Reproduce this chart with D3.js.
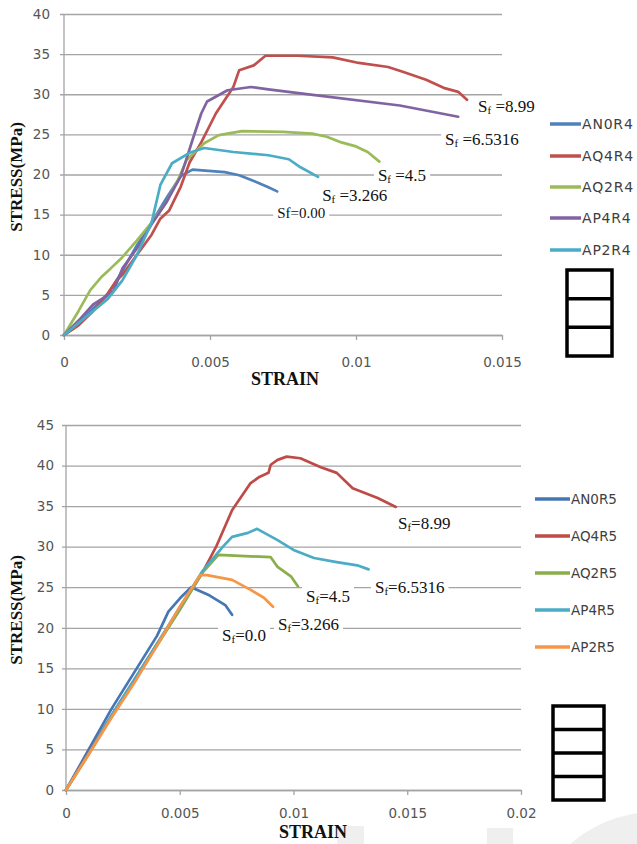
<!DOCTYPE html>
<html><head><meta charset="utf-8">
<script src="https://cdn.jsdelivr.net/npm/d3@7"></script>
<style>
html,body{margin:0;padding:0;background:#fff;}
svg{display:block;}
</style></head>
<body>
<svg id="c" width="637" height="844"></svg>
<script>
// ---------- DATA ----------
const seriesNamesR4 = ["AN0R4","AQ4R4","AQ2R4","AP4R4","AP2R4"];
const AN0R4 = [[0,0],[0.0005,1.5],[0.001,3.3],[0.0015,5],[0.002,8],[0.0025,11.2],[0.003,14],[0.0035,17],[0.004,19.8],[0.0044,20.6],[0.0055,20.3],[0.006,19.9],[0.0065,19.2],[0.007,18.4],[0.0073,17.9]];
const AQ4R4 = [[0,0],[0.0005,1.2],[0.001,3],[0.0015,5.2],[0.0018,6.8],[0.002,7.5],[0.0025,10],[0.003,12.5],[0.0033,14.5],[0.0036,15.5],[0.004,18.5],[0.0043,21.5],[0.0047,24],[0.0052,27.6],[0.0058,30.9],[0.006,33],[0.0065,33.6],[0.0069,34.8],[0.008,34.8],[0.0092,34.6],[0.0101,33.9],[0.0111,33.4],[0.0116,32.8],[0.0124,31.8],[0.013,30.8],[0.0135,30.3],[0.0138,29.3]];
const AQ2R4 = [[0,0],[0.0005,3],[0.0009,5.6],[0.0013,7.3],[0.0016,8.3],[0.002,9.7],[0.0025,11.8],[0.003,14],[0.0035,16.5],[0.0039,19.3],[0.0042,21.8],[0.0048,23.9],[0.0053,24.9],[0.0061,25.4],[0.0075,25.3],[0.0085,25.1],[0.009,24.7],[0.0095,24],[0.01,23.5],[0.0104,22.8],[0.0108,21.6]];
const AP4R4 = [[0,0],[0.0005,1.8],[0.001,3.8],[0.0013,4.5],[0.0017,5.5],[0.002,8.3],[0.0025,10.8],[0.003,13.8],[0.0035,16.5],[0.004,19.8],[0.0042,22],[0.0044,24.3],[0.0047,27.6],[0.0049,29.1],[0.0056,30.5],[0.0064,30.9],[0.007,30.6],[0.0081,30.1],[0.0115,28.6],[0.0135,27.2]];
const AP2R4 = [[0,0],[0.0005,1.5],[0.001,3],[0.0015,4.5],[0.002,6.8],[0.0025,10],[0.003,14],[0.0033,18.7],[0.0037,21.4],[0.0043,22.7],[0.0048,23.3],[0.0058,22.8],[0.007,22.4],[0.0077,21.9],[0.0081,20.9],[0.0087,19.7]];

const seriesNamesR5 = ["AN0R5","AQ4R5","AQ2R5","AP4R5","AP2R5"];
const AN0R5 = [[0,0],[0.001,5],[0.002,10],[0.003,14.5],[0.004,19],[0.0045,22],[0.005,23.6],[0.0055,25],[0.0063,24],[0.007,22.8],[0.0073,21.6]];
const AQ4R5 = [[0,0],[0.001,4.6],[0.002,9.2],[0.003,13.6],[0.004,18],[0.005,22.4],[0.006,26.8],[0.0066,30],[0.0073,34.5],[0.0081,37.8],[0.0085,38.6],[0.0089,39.1],[0.009,40.1],[0.0093,40.7],[0.0097,41.1],[0.0103,40.9],[0.0112,39.8],[0.0119,39.1],[0.0126,37.2],[0.0137,36],[0.0145,34.9]];
const AQ2R5 = [[0,0],[0.001,4.4],[0.002,9],[0.003,13.4],[0.004,17.8],[0.005,22.2],[0.006,26.8],[0.0067,29],[0.009,28.7],[0.0093,27.5],[0.0099,26.3],[0.0102,25.1]];
const AP4R5 = [[0,0],[0.001,4.5],[0.002,9.2],[0.003,13.6],[0.004,18],[0.005,22.5],[0.006,27],[0.0069,30],[0.0073,31.2],[0.008,31.7],[0.0084,32.2],[0.0093,30.8],[0.01,29.6],[0.0109,28.6],[0.0119,28.1],[0.0128,27.7],[0.0133,27.2]];
const AP2R5 = [[0,0],[0.001,4.4],[0.002,8.9],[0.003,13.2],[0.004,17.8],[0.005,22.6],[0.0059,26.5],[0.0062,26.5],[0.0073,25.9],[0.0081,24.7],[0.0087,23.7],[0.0091,22.6]];

const xTicksR4 = [0,0.005,0.01,0.015];
const xTickLabelsR4 = ["0","0.005","0.01","0.015"];
const yTicksR4 = [0,5,10,15,20,25,30,35,40];
const xTicksR5 = [0,0.005,0.01,0.015,0.02];
const xTickLabelsR5 = ["0","0.005","0.01","0.015","0.02"];
const yTicksR5 = [0,5,10,15,20,25,30,35,40,45];

// annotation values (Sf) and their anchor in data units [strain, stress]
const sfLabelsR4 = ["8.99","6.5316","4.5","3.266","0.00"];
const sfAnchorsR4 = [[0.01418,27.8],[0.01305,23.7],[0.01075,19.2],[0.00884,16.7],[0.0073,14.6]];
const sfLabelsR5 = ["8.99","6.5316","4.5","3.266","0.0"];
const sfAnchorsR5 = [[0.01459,32.2],[0.01358,24.3],[0.01055,23.2],[0.00932,19.7],[0.00686,18.4]];

// ---------- STYLE ----------
const colR4 = ["#4F81BD","#C0504D","#9BBB59","#8064A2","#4BACC6"];
const colR5 = ["#4677B5","#BE4B48","#8AAE4A","#4BACC6","#F79646"];
const gridCol = "#a4a4a4";
const tickFont = "DejaVu Sans, sans-serif";
const serif = "Liberation Serif, Times New Roman, serif";

const svg = d3.select("#c");

// faint watermark shapes
const wm = svg.append("g").attr("fill","#efefef");
wm.append("rect").attr("x",337).attr("y",826).attr("width",27).attr("height",18);
wm.append("rect").attr("x",487).attr("y",828).attr("width",26).attr("height",16);
wm.append("path").attr("transform","translate(655,940)")
  .attr("d", d3.arc()({innerRadius:85,outerRadius:128,startAngle:-Math.PI/2,endAngle:Math.PI/2}));

function chart(cfg){
  const g = svg.append("g");
  const x = d3.scaleLinear().domain(cfg.xDomain).range(cfg.xRange);
  const y = d3.scaleLinear().domain(cfg.yDomain).range(cfg.yRange);
  const [x0,x1] = cfg.xRange, [y0,y1] = cfg.yRange;

  // gridlines + y labels
  const ya = d3.axisLeft(y).tickValues(cfg.yTicks).tickSize(-(x1-x0+4)).tickPadding(cfg.yPad).tickFormat(d3.format("d"));
  const yg = g.append("g").attr("transform",`translate(${x0-4},0)`).call(ya);
  yg.select(".domain").remove();
  yg.selectAll(".tick line").attr("stroke",gridCol).attr("stroke-width",1.3);
  yg.selectAll(".tick text").attr("fill","#555").style("font-family",tickFont).style("font-size","13.5px");

  // y axis line
  g.append("line").attr("x1",x0).attr("x2",x0).attr("y1",y0).attr("y2",y1).attr("stroke",gridCol).attr("stroke-width",1.3);

  // x axis
  const xa = d3.axisBottom(x).tickValues(cfg.xTicks).tickSize(5).tickSizeOuter(0).tickPadding(cfg.xPad)
    .tickFormat((d,i)=>cfg.xTickLabels[i]);
  const xg = g.append("g").attr("transform",`translate(0,${y0})`).call(xa);
  xg.select(".domain").attr("stroke",gridCol).attr("stroke-width",1.3);
  xg.selectAll(".tick line").attr("stroke",gridCol).attr("stroke-width",1.3);
  xg.selectAll(".tick text").attr("fill","#555").style("font-family",tickFont).style("font-size","13.5px");

  // annotation backgrounds + text
  const ann = g.append("g");
  const annText = [];
  cfg.sfLabels.forEach((lab,i)=>{
    const [ax,ay] = cfg.sfAnchors[i];
    const t = ann.append("text").attr("x",x(ax)).attr("y",y(ay))
      .style("font-family",serif).style("font-size",(cfg.plainIdx===i?"15px":"17px")).attr("fill","#111");
    if(cfg.plainIdx===i){
      t.text("Sf=" + lab);
    } else {
      t.append("tspan").text("S");
      t.append("tspan").attr("dy",2).style("font-size","11px").text("f");
      t.append("tspan").attr("dy",-2).text((cfg.spaced?" =":"=") + lab);
    }
    annText.push(t);
  });
  annText.forEach(t=>{
    const b = t.node().getBBox();
    ann.insert("rect","text").attr("x",b.x-4).attr("y",b.y-1).attr("width",b.width+8).attr("height",b.height+1).attr("fill","#fff");
  });

  // series
  const line = d3.line().x(d=>x(d[0])).y(d=>y(d[1]));
  const ls = g.append("g");
  cfg.series.forEach((s,i)=>{
    ls.append("path").datum(s).attr("d",line).attr("fill","none")
      .attr("stroke",cfg.colors[i]).attr("stroke-width",2.7).attr("stroke-linejoin","round").attr("stroke-linecap","round");
  });
  g.node().appendChild(ann.node());

  // axis titles
  g.append("text").attr("transform",`translate(${cfg.yTitlePos[0]},${cfg.yTitlePos[1]}) rotate(-90)`)
    .attr("text-anchor","middle").style("font-family",serif).style("font-weight","bold").style("font-size","17px")
    .attr("fill","#111").text("STRESS(MPa)");
  g.append("text").attr("x",cfg.xTitlePos[0]).attr("y",cfg.xTitlePos[1])
    .attr("text-anchor","middle").style("font-family",serif).style("font-weight","bold").style("font-size","18px")
    .attr("fill","#111").text("STRAIN");

  // legend
  const lg = g.append("g");
  cfg.names.forEach((n,i)=>{
    const ly = cfg.legY[i];
    lg.append("line").attr("x1",cfg.legX[0]).attr("x2",cfg.legX[1]).attr("y1",ly).attr("y2",ly)
      .attr("stroke",cfg.colors[i]).attr("stroke-width",3.5);
    lg.append("text").attr("x",cfg.legX[1]+1).attr("y",ly).attr("dy","0.36em")
      .style("font-family",tickFont).style("font-size",cfg.legFont).style("letter-spacing",cfg.legSpacing)
      .attr("fill","#404040").text(n);
  });

  // boxes icon
  const bx = cfg.box;
  const bg = g.append("g").attr("fill","none").attr("stroke","#000").attr("stroke-width",3.5);
  bg.append("rect").attr("x",bx.x).attr("y",bx.y).attr("width",bx.w).attr("height",bx.h);
  for(let k=1;k<bx.n;k++){
    const yy = bx.y + bx.h*k/bx.n;
    bg.append("line").attr("x1",bx.x).attr("x2",bx.x+bx.w).attr("y1",yy).attr("y2",yy);
  }
}

chart({
  xDomain:[0,0.015], xRange:[64,502], yDomain:[0,40], yRange:[335,14],
  xTicks:xTicksR4, xTickLabels:xTickLabelsR4, yTicks:yTicksR4, yPad:10, xPad:17,
  series:[AN0R4,AQ4R4,AQ2R4,AP4R4,AP2R4], colors:colR4, names:seriesNamesR4,
  sfLabels:sfLabelsR4, sfAnchors:sfAnchorsR4, plainIdx:4, spaced:true,
  yTitlePos:[22,177], xTitlePos:[285,385],
  legX:[550,581], legY:[124,156,187,218,250], legFont:"14px", legSpacing:"0.8px",
  box:{x:567,y:270,w:45,h:86,n:3}
});
chart({
  xDomain:[0,0.02], xRange:[66,521], yDomain:[0,45], yRange:[790,425],
  xTicks:xTicksR5, xTickLabels:xTickLabelsR5, yTicks:yTicksR5, yPad:8, xPad:13,
  series:[AN0R5,AQ4R5,AQ2R5,AP4R5,AP2R5], colors:colR5, names:seriesNamesR5,
  sfLabels:sfLabelsR5, sfAnchors:sfAnchorsR5, plainIdx:-1, spaced:false,
  yTitlePos:[22,610], xTitlePos:[313,838],
  legX:[535,570], legY:[499,536,573,610,647], legFont:"13.5px", legSpacing:"0px",
  box:{x:553,y:706,w:51,h:94,n:4}
});
</script>
</body></html>
